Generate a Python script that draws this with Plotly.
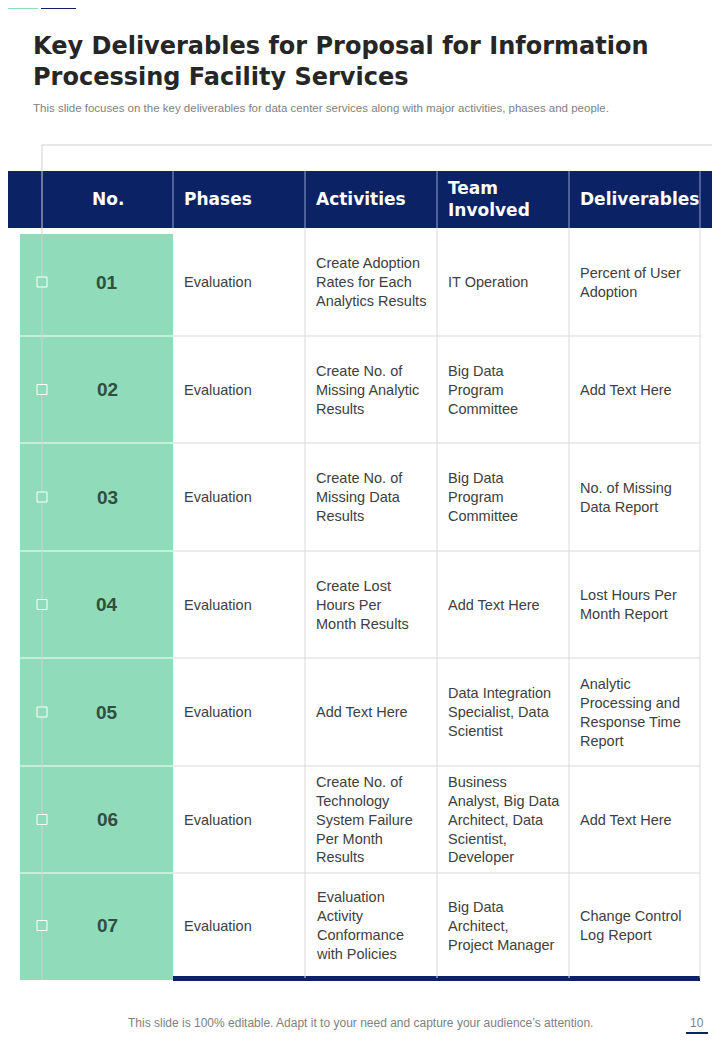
import plotly.graph_objects as go

nos = ["01", "02", "03", "04", "05", "06", "07"]
phases = ["Evaluation"] * 7
activities = ["Create Adoption<br>Rates for Each<br>Analytics Results",
              "Create No. of<br>Missing Analytic<br>Results",
              "Create No. of<br>Missing Data<br>Results",
              "Create Lost<br>Hours Per<br>Month Results",
              "Add Text Here",
              "Create No. of<br>Technology<br>System Failure<br>Per Month<br>Results",
              "Evaluation<br>Activity<br>Conformance<br>with Policies"]
teams = ["IT Operation",
         "Big Data<br>Program<br>Committee",
         "Big Data<br>Program<br>Committee",
         "Add Text Here",
         "Data Integration<br>Specialist, Data<br>Scientist",
         "Business<br>Analyst, Big Data<br>Architect, Data<br>Scientist,<br>Developer",
         "Big Data<br>Architect,<br>Project Manager"]
deliverables = ["Percent of User<br>Adoption",
                "Add Text Here",
                "No. of Missing<br>Data Report",
                "Lost Hours Per<br>Month Report",
                "Analytic<br>Processing and<br>Response Time<br>Report",
                "Add Text Here",
                "Change Control<br>Log Report"]
headers = ["No.", "Phases", "Activities", "Team<br>Involved", "Deliverables"]

NAVY = "#0B2265"
GREEN = "#8FDBBA"
GRID = "#D9D9D9"
cols = [42, 173, 305, 437, 569, 700]
rows = [228, 336, 443, 551, 658, 766, 873, 978]

shapes, ann = [], []
def rect(x0, y0, x1, y1, fill, lw=0, lc=None):
    shapes.append(dict(type="rect", x0=x0, y0=y0, x1=x1, y1=y1, fillcolor=fill,
                       line=dict(width=lw, color=lc or fill), layer="below"))
def line(x0, y0, x1, y1, c, w=1):
    shapes.append(dict(type="line", x0=x0, y0=y0, x1=x1, y1=y1, line=dict(color=c, width=w)))

rect(4, 5, 38, 9, GREEN)
rect(41, 5, 76, 9, NAVY)
rect(0, 171, 728, 228, NAVY)
for x in cols[1:]:
    line(x, 171, x, 228, "#8EA2D0", 1)
rect(20, 234, 173, 980, GREEN)
for x in cols[2:]:
    line(x, 228, x, 978, GRID)
for y in rows[1:-1]:
    line(173, y, 700, y, GRID)
for y in rows[1:-1]:
    line(20, y, 173, y, "#FFFFFF", 1)
rect(173, 976, 700, 981, NAVY)
line(42, 145, 42, 980, "#D0D0D0")
line(42, 145, 728, 145, "#D0D0D0")
rect(686, 1032, 708, 1034, NAVY)

hfont = dict(family="DejaVu Sans", size=17, color="white")
for i, h in enumerate(headers):
    if i == 0:
        ann.append(dict(x=(cols[0] + cols[1]) / 2, y=199, text="<b>No.</b>", xanchor="center",
                        font=hfont))
    else:
        ann.append(dict(x=cols[i] + 9, y=199, text="<b>" + h + "</b>", xanchor="left",
                        align="left", font=hfont))

bfont = dict(family="Liberation Sans", size=14.5, color="#404040")
for r in range(7):
    yc = (rows[r] + rows[r + 1]) / 2
    shapes.append(dict(type="rect", x0=37, y0=yc - 5, x1=47, y1=yc + 5, fillcolor=GREEN,
                       line=dict(color="white", width=1)))
    ann.append(dict(x=107, y=yc, text="<b>" + nos[r] + "</b>", xanchor="center",
                    font=dict(family="Liberation Sans", size=19, color="#2F4F3F")))
    for c, txt in zip(range(1, 5), [phases[r], activities[r], teams[r], deliverables[r]]):
        ann.append(dict(x=cols[c] + 9, y=yc, text=txt, xanchor="left", align="left", font=bfont))

ann.append(dict(x=31, y=61, text="<b>Key Deliverables for Proposal for Information<br>Processing Facility Services</b>",
                xanchor="left", align="left", yanchor="middle",
                font=dict(family="DejaVu Sans", size=24, color="#262626")))
ann.append(dict(x=31, y=108, text="This slide focuses on the key deliverables for data center services along with major activities, phases and people.",
                xanchor="left", font=dict(family="Liberation Sans Narrow, Liberation Sans", size=11.5, color="#7F7F7F")))
ann.append(dict(x=360, y=1023, text="This slide is 100% editable. Adapt it to your need and capture your audience’s attention.",
                xanchor="center", font=dict(family="Liberation Sans Narrow, Liberation Sans", size=12, color="#7F7F7F")))
ann.append(dict(x=697, y=1023, text="10", xanchor="center",
                font=dict(family="Liberation Sans", size=12, color="#7F7F7F")))
for a in ann:
    a.update(xref="x", yref="y", showarrow=False)
    a.setdefault("yanchor", "middle")

fig = go.Figure()
fig.update_layout(width=720, height=1040, margin=dict(l=0, r=0, t=0, b=0),
                  paper_bgcolor="white", plot_bgcolor="white",
                  xaxis=dict(range=[8, 728], visible=False, fixedrange=True),
                  yaxis=dict(range=[1048, 8], visible=False, fixedrange=True),
                  shapes=shapes, annotations=ann, showlegend=False)
fig.write_html("out.html")
